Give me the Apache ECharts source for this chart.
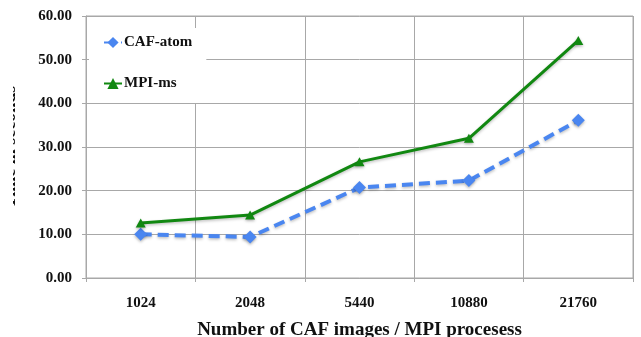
<!DOCTYPE html>
<html>
<head>
<meta charset="utf-8">
<title>CAF-atom vs MPI-ms</title>
<script src="https://cdn.jsdelivr.net/npm/echarts@6/dist/echarts.min.js"></script>
<style>
  html, body { margin: 0; padding: 0; background: #fff; }
  #chart { width: 641px; height: 337px; }
</style>
</head>
<body>
<div id="chart"></div>
<script>
// Number of images / processes on the x axis
const categories = ['1024', '2048', '5440', '10880', '21760'];

// Time in seconds for each run
const cafAtom = [10.0, 9.4, 20.7, 22.3, 36.1];
const mpiMs = [12.6, 14.4, 26.6, 32.0, 54.4];

// Value axis range and step
const yMin = 0;
const yMax = 60;
const yStep = 10;

const serif = '"Liberation Serif", "DejaVu Serif", serif';
const gridGray = '#a8a8a8';
const blue = '#4a86f0';
const green = '#118811';

const chart = echarts.init(document.getElementById('chart'), null, { renderer: 'canvas' });

chart.setOption({
  animation: false,
  backgroundColor: '#ffffff',
  grid: {
    left: 86, right: 8, top: 16, bottom: 59,
    containLabel: false,
    outerBoundsMode: 'none',
    show: true, borderColor: gridGray, borderWidth: 1, backgroundColor: 'transparent'
  },
  legend: {
    orient: 'vertical',
    left: 89, top: 28,
    padding: [7, 14, 12, 14],
    itemGap: 26,
    itemWidth: 18, itemHeight: 14,
    backgroundColor: '#ffffff',
    textStyle: { fontFamily: serif, fontWeight: 'bold', fontSize: 15, color: '#111', padding: [0, 0, 0, -3] },
    data: ['CAF-atom', 'MPI-ms']
  },
  xAxis: {
    type: 'category',
    data: categories,
    boundaryGap: true,
    name: 'Number of CAF images / MPI procesess',
    nameLocation: 'middle',
    nameGap: 43,
    nameTextStyle: { fontFamily: serif, fontWeight: 'bold', fontSize: 19, color: '#111' },
    axisLine: { show: true, lineStyle: { color: gridGray, width: 1 } },
    axisTick: { show: true, interval: 0, length: 4, lineStyle: { color: gridGray } },
    axisLabel: { interval: 0, margin: 18, fontFamily: serif, fontWeight: 'bold', fontSize: 15, color: '#111' },
    splitLine: { show: true, interval: 0, lineStyle: { color: gridGray, width: 1 } }
  },
  yAxis: {
    type: 'value',
    min: yMin, max: yMax, interval: yStep,
    name: 'Time in seconds',
    nameLocation: 'middle',
    nameGap: 67,
    nameTextStyle: { fontFamily: serif, fontWeight: 'bold', fontSize: 18, color: '#111' },
    axisLine: { show: true, lineStyle: { color: gridGray, width: 1 } },
    axisTick: { show: true, length: 4, lineStyle: { color: gridGray } },
    axisLabel: {
      margin: 14, fontFamily: serif, fontWeight: 'bold', fontSize: 15, color: '#111',
      formatter: v => v.toFixed(2)
    },
    splitLine: { show: true, lineStyle: { color: gridGray, width: 1 } }
  },
  graphic: [
    {
      type: 'rect', left: 0, top: 0, z: 100,
      shape: { width: 13, height: 337 },
      style: { fill: '#ffffff' }
    }
  ],
  series: [
    {
      name: 'CAF-atom',
      type: 'line',
      data: cafAtom,
      symbol: 'diamond',
      symbolSize: 13,
      z: 3,
      lineStyle: {
        color: blue, width: 4, type: [11, 6], cap: 'butt',
        shadowBlur: 3, shadowColor: 'rgba(0,0,0,0.25)', shadowOffsetY: 1.5
      },
      itemStyle: {
        color: blue, borderWidth: 0,
        shadowBlur: 3, shadowColor: 'rgba(0,0,0,0.3)', shadowOffsetY: 1.5
      }
    },
    {
      name: 'MPI-ms',
      type: 'line',
      data: mpiMs,
      symbol: 'triangle',
      symbolSize: [10, 9],
      z: 4,
      lineStyle: {
        color: green, width: 3,
        shadowBlur: 3, shadowColor: 'rgba(0,0,0,0.25)', shadowOffsetY: 1.5
      },
      itemStyle: {
        color: green, borderWidth: 0,
        shadowBlur: 3, shadowColor: 'rgba(0,0,0,0.3)', shadowOffsetY: 1.5
      }
    }
  ]
});
</script>
</body>
</html>
